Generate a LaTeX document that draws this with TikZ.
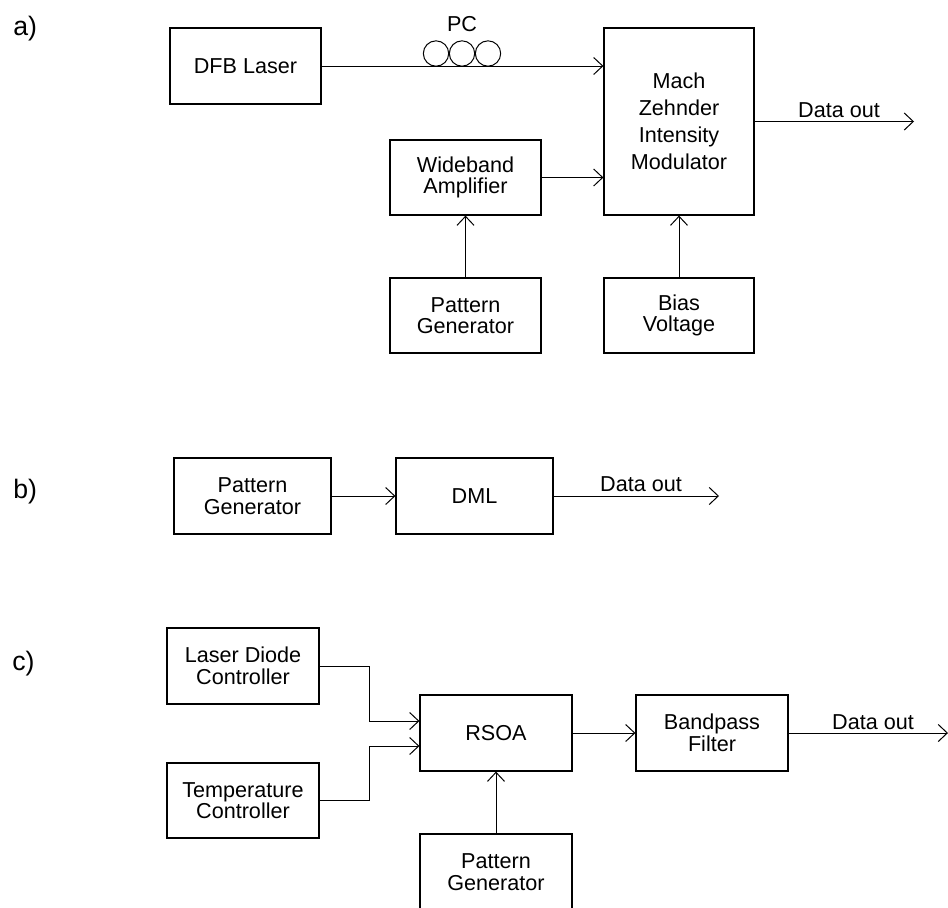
\documentclass[tikz,border=0pt]{standalone}
\usepackage{fontspec}
\setmainfont{Liberation Sans}
\usetikzlibrary{arrows.meta,calc}

\tikzset{
  blk/.style={draw, line width=0.9pt, align=center, inner sep=0pt,
    font=\fontsize{16.2}{16.2}\selectfont},
  wire/.style={line width=0.75pt},
  sig/.style={wire, -{Straight Barb[length=6.8pt,width=12.8pt,line width=0.75pt]}},
  lbl/.style={font=\fontsize{16.2}{16.2}\selectfont, inner sep=0pt},
  part/.style={font=\fontsize{20}{20}\selectfont, inner sep=0pt, anchor=base west},
}

\begin{document}
\begin{tikzpicture}[x=0.75pt, y=-0.75pt]
  \useasboundingbox[fill=white] (0,0) rectangle (948,907);

  % ---------------- a) external modulation ----------------
  \node[part] (la) at (13,35) {a)};
  \node[blk, minimum width=113.25pt, minimum height=57pt] (dfb) at (245.5,66) {DFB Laser};
  \node[blk, minimum width=112.5pt, minimum height=140.25pt,
        font=\fontsize{16.2}{20.3}\selectfont] (mzm) at (679,121.5)
        {Mach\\Zehnder\\Intensity\\Modulator};
  \node[blk, minimum width=113.25pt, minimum height=56.25pt] (amp) at (465.5,177.5) {Wideband\\Amplifier};
  \node[blk, minimum width=113.25pt, minimum height=56.25pt] (pga) at (465.5,315.5) {Pattern\\Generator};
  \node[blk, minimum width=112.5pt, minimum height=56.25pt] (bias) at (679,315.5) {Bias\\Voltage};

  \draw[sig] (dfb.east) -- (dfb.east -| mzm.west);
  % polarisation controller paddles
  \foreach \cx in {436,462,488} \draw[wire] (\cx,53.5) circle[radius=9.5pt];
  \node[lbl] (pc) at (462,24) {PC};
  \draw[sig] (amp.east) -- (amp.east -| mzm.west);
  \draw[sig] (pga.north) -- (amp.south);
  \draw[sig] (bias.north) -- (mzm.south);
  \coordinate (outa) at (914,121.5);
  \draw[sig] (mzm.east) -- (outa);
  \node[lbl] (da) at (839,110) {Data out};

  % ---------------- b) direct modulation ----------------
  \node[part] (lb) at (13,498) {b)};
  \node[blk, minimum width=117.75pt, minimum height=57pt] (pgb) at (252.5,496) {Pattern\\Generator};
  \node[blk, minimum width=117.75pt, minimum height=57pt] (dml) at (474.5,496) {DML};
  \draw[sig] (pgb.east) -- (dml.west);
  \coordinate (outb) at (719,496);
  \draw[sig] (dml.east) -- (outb);
  \node[lbl] (db) at (641,484) {Data out};

  % ---------------- c) RSOA ----------------
  \node[part] (lc) at (12,670) {c)};
  \node[blk, minimum width=114pt, minimum height=57pt] (ldc) at (243,666) {Laser Diode\\Controller};
  \node[blk, minimum width=114pt, minimum height=56.25pt] (tc) at (243,800.5) {Temperature\\Controller};
  \node[blk, minimum width=114pt, minimum height=57pt] (rsoa) at (496,733) {RSOA};
  \node[blk, minimum width=114pt, minimum height=57pt] (pgc) at (496,872) {Pattern\\Generator};
  \node[blk, minimum width=114pt, minimum height=57pt] (bpf) at (712,733) {Bandpass\\Filter};

  \coordinate (j1) at (369,721);
  \coordinate (j2) at (369,746);
  \draw[sig] (ldc.east) -| (j1) -- (j1 -| rsoa.west);
  \draw[sig] (tc.east) -| (j2) -- (j2 -| rsoa.west);
  \draw[sig] (pgc.north) -- (rsoa.south);
  \draw[sig] (rsoa.east) -- (bpf.west);
  \coordinate (outc) at (948,733);
  \draw[sig] (bpf.east) -- (outc);
  \node[lbl] (dc) at (873,722) {Data out};
\end{tikzpicture}
\end{document}
